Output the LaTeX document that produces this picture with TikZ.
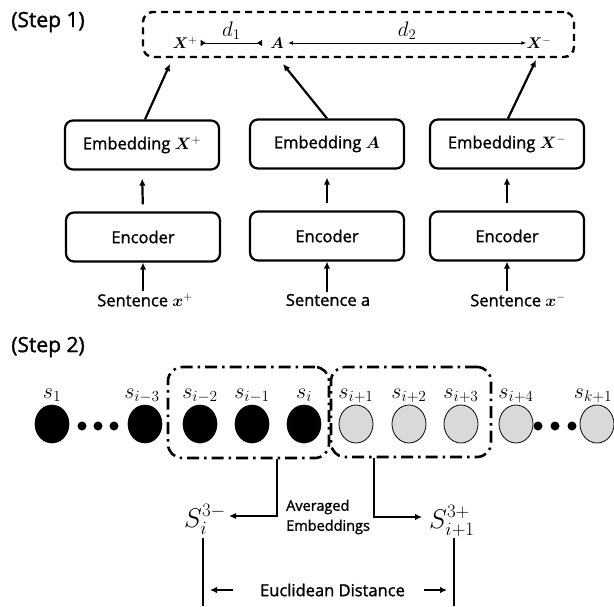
\RequirePackage{fix-cm}
\documentclass[tikz,border=0pt]{standalone}
\usepackage{amsmath}
\usepackage{bm}
\usepackage[no-math]{fontspec}
\setmainfont{Open Sans}[FakeBold=1.4]
\usetikzlibrary{arrows.meta,shapes.geometric}
\definecolor{lg}{HTML}{D9D9D9}
\newcommand\stepfnt{\fontsize{21}{25}\selectfont}
\newcommand\boxfnt{\fontsize{16.5}{20}\selectfont}
\newcommand\avfnt{\fontsize{14.5}{20}\selectfont}
\newcommand\edfnt{\fontsize{16.5}{19}\selectfont}
\newcommand\labfnt{\fontsize{22}{26}\selectfont}
\newcommand\bigSfnt{\fontsize{27}{31}\selectfont}
\newcommand\dfnt{\fontsize{21}{25}\selectfont}
\newcommand\xfnt{\fontsize{15.5}{18}\selectfont}
\begin{document}
\begin{tikzpicture}[x=1pt,y=-1pt,
  box/.style={draw, line width=2.2pt, rounded corners=8pt, minimum width=154pt, minimum height=49pt, inner sep=0pt, font=\boxfnt},
  arr/.style={line width=2.2pt, -{Latex[length=7pt,width=6.5pt]}},
  thinarr/.style={line width=1pt},
  dbox/.style={draw, line width=2.4pt, dash pattern=on 7pt off 5pt, rounded corners=10pt, inner sep=0pt},
  ddbox/.style={draw, line width=2.6pt, dash pattern=on 12pt off 5pt on 2.5pt off 5pt, rounded corners=14pt, inner sep=0pt},
  blk/.style={ellipse, fill=black, draw=black, line width=0.6pt, minimum width=34pt, minimum height=38pt, inner sep=0pt},
  gry/.style={ellipse, fill=lg, draw=black, line width=0.8pt, minimum width=34pt, minimum height=38pt, inner sep=0pt},
  lbl/.style={font=\labfnt, anchor=base, inner sep=0pt},
  txt/.style={font=\boxfnt, inner sep=0pt}
]
\path[use as bounding box] (0,0) rectangle (614,606);

% ---------- Step 1 ----------
\node[font=\stepfnt, inner sep=0pt] (st1) at (48,22) {(Step 1)};
\node[dbox, minimum width=431pt, minimum height=45pt] (top) at (358.5,34.5) {};
\node[font=\xfnt, inner sep=1pt] (xp) at (185,43) {$\bm{X}^{+}$};
\node[font=\xfnt, inner sep=1pt] (aa) at (277,43) {$\bm{A}$};
\node[font=\xfnt, inner sep=1pt] (xm) at (539,43) {$\bm{X}^{-}$};
\draw[thinarr, {Triangle[reversed,length=5pt,width=6pt]}-{Triangle[reversed,length=5pt,width=6pt]}]
  ([xshift=2pt]xp.east) -- ([xshift=-7pt]aa.west)
  node[midway, above=3pt, font=\dfnt, inner sep=0pt] (d1) {$d_1$};
\draw[thinarr, {Latex[length=5pt,width=4pt]}-{Latex[length=5pt,width=4pt]}]
  ([xshift=3pt]aa.east) -- ([xshift=1pt]xm.west)
  node[midway, above=3pt, font=\dfnt, inner sep=0pt] (d2) {$d_2$};

\node[box] (e1) at (142,145) {Embedding $\bm{X}^{+}$};
\node[box] (e2) at (327,144) {Embedding $\bm{A}$};
\node[box] (e3) at (507,144) {Embedding $\bm{X}^{-}$};
\node[box] (c1) at (143,237) {Encoder};
\node[box] (c2) at (327,236) {Encoder};
\node[box] (c3) at (507,236) {Encoder};
\node[txt] (sn1) at (145,300) {Sentence $\bm{x}^{+}$};
\node[txt] (sn2) at (328,300) {Sentence a};
\node[txt] (sn3) at (518,300) {Sentence $\bm{x}^{-}$};

\coordinate (t1) at (170,64);
\coordinate (t2) at (283,64);
\coordinate (t3) at (536,60);
\draw[arr] ([xshift=3pt]e1.north) -- (t1);
\draw[arr] (e2.north) -- (t2);
\draw[arr] ([xshift=1pt]e3.north) -- (t3);
\foreach \k in {1,2,3}{
  \draw[arr, shorten <=7pt, shorten >=8pt] (c\k.north) -- (e\k.south);
}
\draw[arr] (sn1.north -| c1) ++(0,-2) -- (c1.south);
\draw[arr] (sn2.north -| c2) ++(0,-2) -- (c2.south);
\draw[arr] (sn3.north -| c3) ++(0,-2) -- (c3.south);

% ---------- Step 2 ----------
\node[font=\stepfnt, inner sep=0pt] (st2) at (48,347) {(Step 2)};
\node[ddbox, minimum width=161pt, minimum height=91pt] (g1) at (248.5,412.5) {};
\node[ddbox, minimum width=160pt, minimum height=90pt] (g2) at (411,412) {};

\foreach \x [count=\k] in {52,145,200,252,304}{
  \node[blk] (n\k) at (\x,424) {};
}
\foreach \x [count=\k from 6] in {356,409,461,516,597}{
  \node[gry] (n\k) at (\x,424) {};
}
\foreach \x/\lab in {52/1,142/i-3,200/i-2,252/i-1,304/i,356/i+1,409/i+2,461/i+3,516/i+4,593/k+1}{
  \node[lbl] at (\x,398) {$s_{\lab}$};
}
\foreach \x in {82,98,114,538,555,572}{
  \fill (\x,426) circle (4.5);
}

\node[font=\bigSfnt, anchor=base west, inner sep=0pt] (Si) at (184,527) {$S_{i}^{3-}$};
\node[font=\bigSfnt, anchor=base west, inner sep=0pt] (Sj) at (429,528) {$S_{i+1}^{3+}$};
\node[font=\avfnt, align=left, anchor=west, inner sep=0pt] (av) at (286,517) {Averaged\\Embeddings};

\coordinate (a1) at (277,516);
\coordinate (a2) at (374,517);
\draw[arr, line join=miter] (g1.south -| a1) -- (a1) -- ([xshift=3pt]Si.east |- a1);
\draw[arr, line join=miter] (g2.south -| a2) -- (a2) -- ([xshift=-7pt]Sj.west |- a2);

\coordinate (v1) at (203,538);
\coordinate (v1b) at (203,606);
\coordinate (v2) at (454,538);
\coordinate (v2b) at (454,606);
\draw[line width=2.6pt] (v1) -- (v1b);
\draw[line width=2.6pt] (v2) -- (v2b);

\node[font=\edfnt, inner sep=0pt] (ed) at (332.5,590) {Euclidean Distance};
\draw[arr, line width=2.6pt, shorten <=27pt, shorten >=7pt] (ed.west) -- (ed.west -| v1);
\draw[arr, line width=2.6pt, shorten <=19pt, shorten >=7pt] (ed.east) -- (ed.east -| v2);
\end{tikzpicture}
\end{document}
